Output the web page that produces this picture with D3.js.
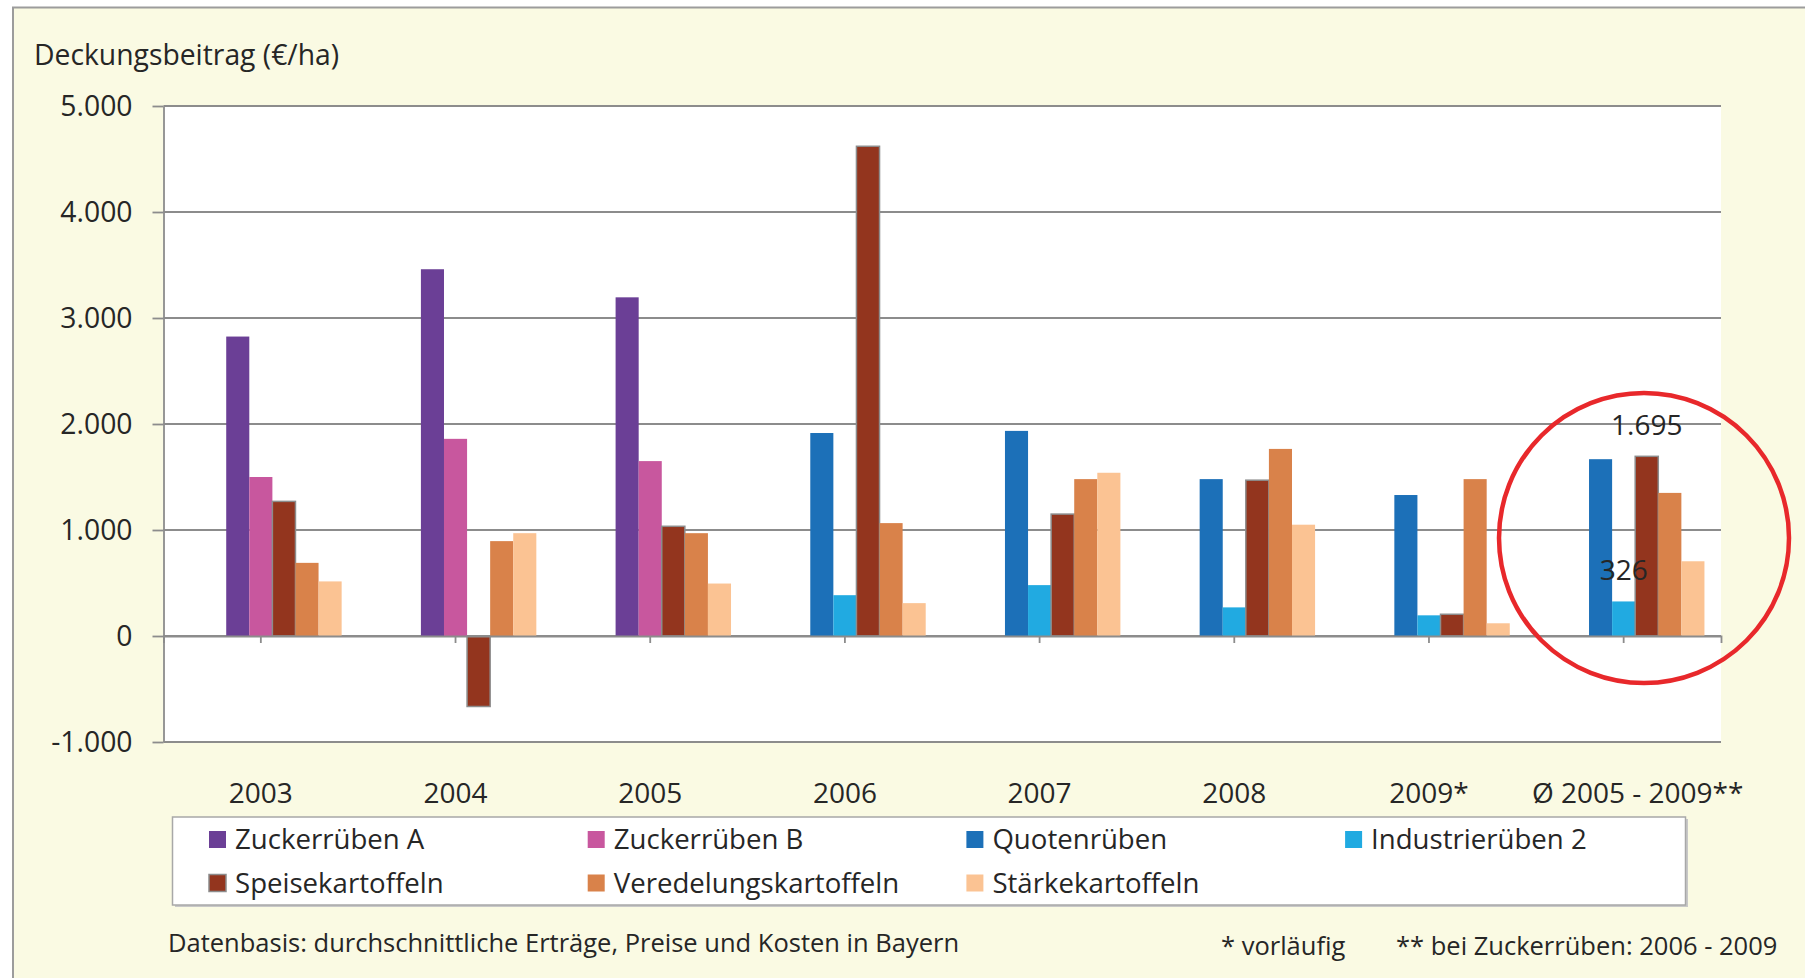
<!DOCTYPE html>
<html>
<head>
<meta charset="utf-8">
<script src="https://cdn.jsdelivr.net/npm/d3@7"></script>
<style>
  body { margin: 0; background: #fff; }
  text { font-family: "Open Sans", sans-serif; fill: #262626; }
</style>
</head>
<body>
<svg id="chart"></svg>
<script>
const categories = ['2003', '2004', '2005', '2006', '2007', '2008', '2009*', 'Ø 2005 - 2009**'];

const zuckerA = [2825, 3460, 3195, null, null, null, null, null];
const zuckerB = [1500, 1860, 1650, null, null, null, null, null];
const quoten = [null, null, null, 1915, 1935, 1480, 1330, 1668];
const industrie = [null, null, null, 385, 480, 270, 195, 326];
const speise = [1270, -665, 1035, 4620, 1150, 1470, 205, 1695];
const veredelung = [690, 895, 970, 1065, 1480, 1765, 1480, 1350];
const staerke = [515, 970, 495, 310, 1540, 1050, 120, 705];

const seriesNames = ['Zuckerrüben A', 'Zuckerrüben B', 'Quotenrüben', 'Industrierüben 2',
  'Speisekartoffeln', 'Veredelungskartoffeln', 'Stärkekartoffeln'];
const yTicks = [-1000, 0, 1000, 2000, 3000, 4000, 5000];

// sugar beet series share the first two visible slots of each group
const series = [
  { name: seriesNames[0], values: zuckerA, slot: 2, color: '#6b3f96' },
  { name: seriesNames[1], values: zuckerB, slot: 3, color: '#c8579e' },
  { name: seriesNames[2], values: quoten, slot: 2, color: '#1c70b8' },
  { name: seriesNames[3], values: industrie, slot: 3, color: '#21aae1' },
  { name: seriesNames[4], values: speise, slot: 4, color: '#93351e', stroke: '#8c8c8c' },
  { name: seriesNames[5], values: veredelung, slot: 5, color: '#d9824a' },
  { name: seriesNames[6], values: staerke, slot: 6, color: '#fbc393' }
];

// data labels shown in the last group
const labelled = ['Speisekartoffeln', 'Industrierüben 2'];

const width = 1805;
const height = 978;
const plot = { left: 163.5, right: 1721, top: 106, bottom: 742 };

const de = d3.formatLocale({ decimal: ',', thousands: '.', grouping: [3], currency: ['', '€'], minus: '-' });
const fmt = de.format(',');

const svg = d3.select('#chart')
  .attr('width', width)
  .attr('height', height);

svg.append('rect')
  .attr('x', 13)
  .attr('y', 7.5)
  .attr('width', width)
  .attr('height', height)
  .attr('fill', '#fafae3')
  .attr('stroke', '#9c9c9c')
  .attr('stroke-width', 2);

svg.append('rect')
  .attr('x', plot.left)
  .attr('y', plot.top)
  .attr('width', plot.right - plot.left)
  .attr('height', plot.bottom - plot.top)
  .attr('fill', '#fff');

const x0 = d3.scaleBand()
  .domain(categories)
  .range([plot.left, plot.right])
  .paddingInner(0.17)
  .paddingOuter(0.085);

const x1 = d3.scaleBand()
  .domain(d3.range(7))
  .range([0, x0.bandwidth()]);

const y = d3.scaleLinear()
  .domain([-1000, 5000])
  .range([plot.bottom, plot.top]);

svg.append('g')
  .selectAll('line')
  .data(yTicks)
  .enter()
  .append('line')
  .attr('x1', plot.left)
  .attr('x2', plot.right)
  .attr('y1', d => y(d))
  .attr('y2', d => y(d))
  .attr('stroke', '#8c8c8c')
  .attr('stroke-width', 1.8);

const yAxis = svg.append('g')
  .attr('transform', `translate(${plot.left},0)`)
  .call(d3.axisLeft(y).tickValues(yTicks).tickSize(11).tickPadding(20).tickSizeOuter(0).tickFormat(fmt));

yAxis.selectAll('line, path').attr('stroke', '#8c8c8c').attr('stroke-width', 1.8);
yAxis.selectAll('text')
  .style('font-size', '28.3px')
  .style('font-family', '"Open Sans", sans-serif')
  .attr('fill', '#262626');

const groups = svg.append('g')
  .selectAll('g')
  .data(series)
  .enter()
  .append('g');

groups.selectAll('rect')
  .data(s => s.values.map((v, i) => ({ s, v, cat: categories[i] })).filter(d => d.v !== null))
  .enter()
  .append('rect')
  .attr('x', d => x0(d.cat) + x1(d.s.slot))
  .attr('width', x1.bandwidth())
  .attr('y', d => y(Math.max(0, d.v)))
  .attr('height', d => Math.abs(y(d.v) - y(0)))
  .attr('fill', d => d.s.color)
  .attr('stroke', d => d.s.stroke || 'none')
  .attr('stroke-width', 1.5);

const xAxis = svg.append('g')
  .attr('transform', `translate(0,${y(0)})`)
  .call(d3.axisBottom(x0).tickSize(7).tickSizeOuter(7).tickFormat(''));

xAxis.selectAll('line, path').attr('stroke', '#8c8c8c').attr('stroke-width', 1.8);

const last = categories[categories.length - 1];

svg.append('g')
  .selectAll('text')
  .data(categories)
  .enter()
  .append('text')
  .attr('x', d => x0(d) + x0.bandwidth() / 2 + (d === last ? 14 : 0))
  .attr('y', 803)
  .attr('text-anchor', 'middle')
  .style('font-size', '28px')
  .text(d => d);

svg.append('g')
  .selectAll('text')
  .data(series.filter(s => labelled.includes(s.name)))
  .enter()
  .append('text')
  .attr('x', s => x0(last) + x1(s.slot) + x1.bandwidth() / 2)
  .attr('y', s => y(s.values[categories.length - 1]) - 21)
  .attr('text-anchor', 'middle')
  .style('font-size', '28px')
  .attr('fill', '#111')
  .text(s => fmt(s.values[categories.length - 1]));

svg.append('ellipse')
  .attr('cx', 1644)
  .attr('cy', 538)
  .attr('rx', 145)
  .attr('ry', 145)
  .attr('fill', 'none')
  .attr('stroke', '#e8282b')
  .attr('stroke-width', 4.5);

svg.append('text')
  .attr('x', 34)
  .attr('y', 65)
  .style('font-size', '28.3px')
  .text('Deckungsbeitrag (€/ha)');

// legend
svg.append('rect')
  .attr('x', 175)
  .attr('y', 819)
  .attr('width', 1513)
  .attr('height', 88)
  .attr('fill', '#c8c8c8');

svg.append('rect')
  .attr('x', 172.5)
  .attr('y', 817)
  .attr('width', 1513)
  .attr('height', 88)
  .attr('fill', '#fff')
  .attr('stroke', '#a8a8a8')
  .attr('stroke-width', 1.5);

const legend = svg.append('g')
  .selectAll('g')
  .data(series)
  .enter()
  .append('g')
  .attr('transform', (d, i) => `translate(${209 + (i % 4) * 378.7},${i < 4 ? 839.5 : 883})`);

legend.append('rect')
  .attr('x', 0)
  .attr('y', -8.5)
  .attr('width', 17)
  .attr('height', 17)
  .attr('fill', d => d.color)
  .attr('stroke', d => d.stroke || 'none')
  .attr('stroke-width', 1.5);

legend.append('text')
  .attr('x', 26)
  .attr('y', 9.5)
  .style('font-size', '27.6px')
  .text(d => d.name);

svg.append('text')
  .attr('x', 168)
  .attr('y', 952)
  .style('font-size', '25.5px')
  .text('Datenbasis: durchschnittliche Erträge, Preise und Kosten in Bayern');

svg.append('text')
  .attr('x', 1221)
  .attr('y', 955)
  .style('font-size', '25.5px')
  .text('* vorläufig');

svg.append('text')
  .attr('x', 1396)
  .attr('y', 955)
  .style('font-size', '25.5px')
  .text('** bei Zuckerrüben: 2006 - 2009');
</script>
</body>
</html>
